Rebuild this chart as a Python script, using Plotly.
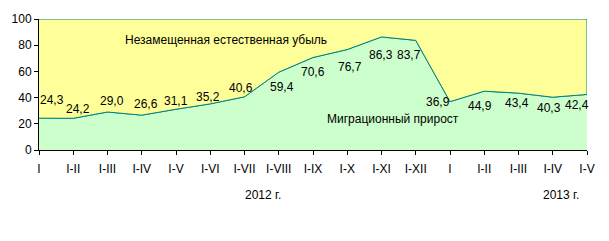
import plotly.graph_objects as go

categories = ["I", "I-II", "I-III", "I-IV", "I-V", "I-VI", "I-VII", "I-VIII", "I-IX",
              "I-X", "I-XI", "I-XII", "I", "I-II", "I-III", "I-IV", "I-V"]
migration = [24.3, 24.2, 29.0, 26.6, 31.1, 35.2, 40.6, 59.4, 70.6, 76.7, 86.3, 83.7,
             36.9, 44.9, 43.4, 40.3, 42.4]
total_level = [100] * len(migration)
y_ticks = [0, 20, 40, 60, 80, 100]
years = ["2012 г.", "2013 г."]
series_names = ["Незамещенная естественная убыль", "Миграционный прирост"]

# label offsets (pixels) relative to each data point
label_dx = [13, 5, 4, 4, 0, -2, -4, 3, 0, 3, -1, -7, -12.5, -4, -2, -3.6, -10]
label_dy = [18, 9, 11, 11, 8.5, 7, 9, -15, -14, -17, -18.5, -14.5, 0, -14.5, -10, -11, -10.7]

xs = list(range(len(categories)))
FONT = "Liberation Sans, Arial, sans-serif"
TEAL = "#008080"

fig = go.Figure()
fig.add_trace(go.Scatter(
    x=xs, y=migration, mode="lines", fill="tozeroy",
    fillcolor="#CCFFCC", line=dict(color=TEAL, width=1), hoverinfo="skip"))
fig.add_trace(go.Scatter(
    x=xs + [xs[-1]] + xs[::-1], y=total_level + [migration[-1]] + migration[::-1],
    mode="lines", fill="toself", fillcolor="#FFFF99",
    line=dict(color=TEAL, width=1), hoverinfo="skip"))

annotations = []
for i, v in enumerate(migration):
    annotations.append(dict(
        x=xs[i], y=v, xref="x", yref="y", text=f"{v:.1f}".replace(".", ","),
        showarrow=False, xshift=label_dx[i], yshift=label_dy[i],
        font=dict(family=FONT, size=12, color="black")))

annotations.append(dict(x=5.45, y=84.1, xref="x", yref="y", text=series_names[0],
                        showarrow=False, font=dict(family=FONT, size=12, color="black")))
annotations.append(dict(x=10.34, y=23.3, xref="x", yref="y", text=series_names[1],
                        showarrow=False, font=dict(family=FONT, size=12, color="black")))
annotations.append(dict(x=6.55, y=-0.34, xref="x", yref="paper", text=years[0],
                        showarrow=False, yanchor="middle",
                        font=dict(family=FONT, size=12, color="black")))
annotations.append(dict(x=15.24, y=-0.34, xref="x", yref="paper", text=years[1],
                        showarrow=False, yanchor="middle",
                        font=dict(family=FONT, size=12, color="black")))

fig.update_layout(
    width=609, height=241,
    margin=dict(l=37, r=22, t=15, b=91),
    paper_bgcolor="white", plot_bgcolor="white",
    showlegend=False,
    annotations=annotations,
    font=dict(family=FONT, size=12, color="black"),
    xaxis=dict(range=[0, 16], tickmode="array", tickvals=xs, ticktext=categories,
               showgrid=False, zeroline=False, showline=True, linecolor="black",
               linewidth=1, ticks="outside", ticklen=4, tickcolor="black",
               tickangle=0, ticklabelstandoff=4, tickfont=dict(family=FONT, size=12)),
    yaxis=dict(range=[0, 100], tickvals=y_ticks, showgrid=False, zeroline=False,
               showline=True, linecolor="black", linewidth=1, ticks="outside",
               ticklen=4, tickcolor="black", tickfont=dict(family=FONT, size=12)),
)

fig.write_html("out.html")
